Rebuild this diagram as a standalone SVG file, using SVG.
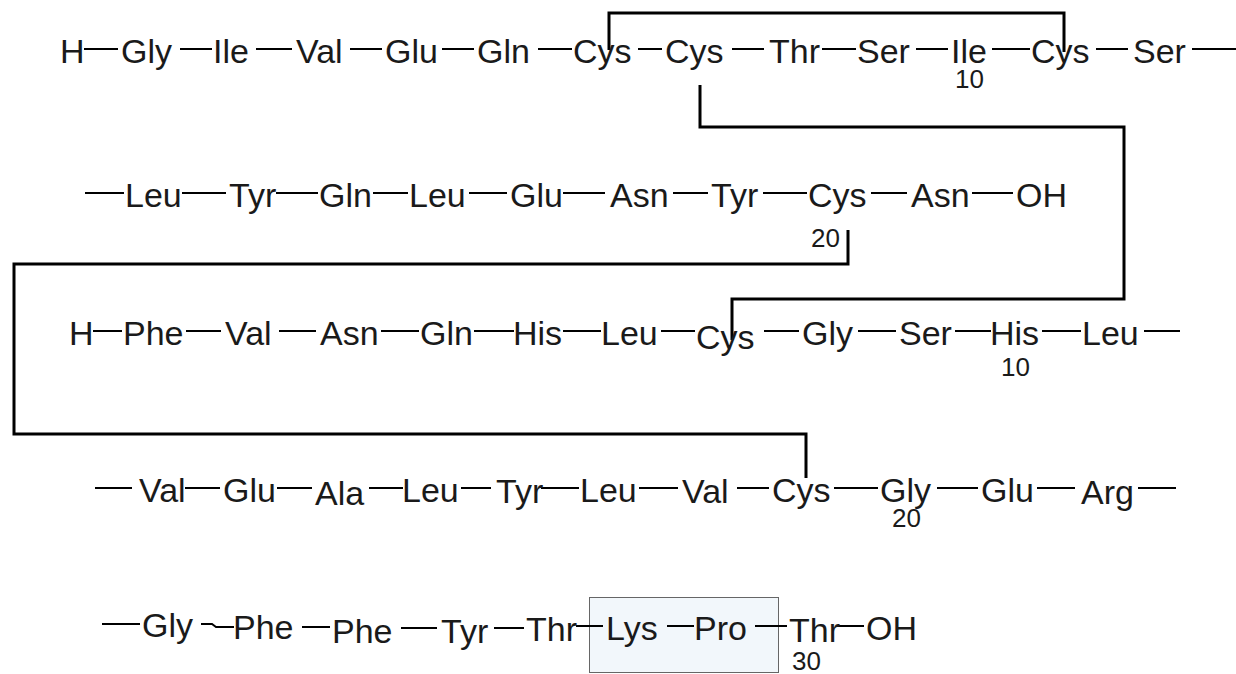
<svg xmlns="http://www.w3.org/2000/svg" width="1236" height="674" viewBox="0 0 1236 674">
<style>
text{font-family:"Liberation Sans",Arial,sans-serif;fill:#1a1a1a}
.t{font-size:34px}
.n{font-size:26px}
.b{stroke:#000;stroke-width:2;fill:none}
.ss{stroke:#000;stroke-width:3;fill:none}
</style>
<rect width="1236" height="674" fill="#fff"/>
<g id="box"><rect x="589.5" y="597.5" width="189" height="75" fill="#f2f7fb" stroke="#666" stroke-width="1"/></g>
<g id="connectors">
<g class="b">
<path d="M84 49H118M180 49H212M256 49H292M350 49H382M442 49H474M538 49H572M638 49H662M732 49H764M822 49H856M916 49H948M992 49H1030M1096 49H1128M1192 49H1236"/>
<path d="M85 193H124M182 193H226M276 193H318M373 193H408M469 193H507M563 193H605M673 193H708M763 193H807M871 193H907M972 193H1013"/>
<path d="M93 331H122M186 331H221M279 331H316M381 331H419M474 331H514M563 331H601M661 331H695M764 331H799M858 331H896M955 331H991M1042 331H1081M1144 331H1180"/>
<path d="M95 488H132M185 488H220M277 488H312M369 488H403M461 488H491M541 488H579M639 488H678M737 488H769M834 488H878M937 488H978M1037 488H1075M1138 488H1176"/>
<path d="M102 624H140M201 624H212L216 627H234M302 627H330M401 628H437M494 628H524M576 626H603M667 626H694M755 626H787M837 626H864"/>
</g>
<g class="ss">
<path d="M609 50V13H1064V52"/>
<path d="M700 85V127H1124V299H732V340"/>
<path d="M848 230V264H14V434H806V478"/>
</g>
</g>
<g id="row1">
<text class="t" x="60" y="63">H</text>
<text class="t" x="121" y="63">Gly</text>
<text class="t" x="213" y="63">Ile</text>
<text class="t" x="296" y="63">Val</text>
<text class="t" x="385" y="63">Glu</text>
<text class="t" x="477" y="63">Gln</text>
<text class="t" x="573" y="63">Cys</text>
<text class="t" x="665" y="63">Cys</text>
<text class="t" x="769" y="63">Thr</text>
<text class="t" x="857" y="63">Ser</text>
<text class="t" x="951" y="63">Ile</text>
<text class="n" x="955" y="88">10</text>
<text class="t" x="1031" y="63">Cys</text>
<text class="t" x="1133" y="63">Ser</text>
</g>
<g id="row2">
<text class="t" x="125" y="207">Leu</text>
<text class="t" x="229" y="207">Tyr</text>
<text class="t" x="319" y="207">Gln</text>
<text class="t" x="409" y="207">Leu</text>
<text class="t" x="510" y="207">Glu</text>
<text class="t" x="610" y="207">Asn</text>
<text class="t" x="711" y="207">Tyr</text>
<text class="t" x="808" y="207">Cys</text>
<text class="n" x="811" y="247">20</text>
<text class="t" x="911" y="207">Asn</text>
<text class="t" x="1016" y="207">OH</text>
</g>
<g id="row3">
<text class="t" x="69" y="345">H</text>
<text class="t" x="123" y="345">Phe</text>
<text class="t" x="225" y="345">Val</text>
<text class="t" x="320" y="345">Asn</text>
<text class="t" x="420" y="345">Gln</text>
<text class="t" x="513" y="345">His</text>
<text class="t" x="601" y="345">Leu</text>
<text class="t" x="696" y="349">Cys</text>
<text class="t" x="802" y="345">Gly</text>
<text class="t" x="899" y="345">Ser</text>
<text class="t" x="990" y="345">His</text>
<text class="n" x="1001" y="376">10</text>
<text class="t" x="1082" y="345">Leu</text>
</g>
<g id="row4">
<text class="t" x="139" y="502">Val</text>
<text class="t" x="223" y="502">Glu</text>
<text class="t" x="315" y="505">Ala</text>
<text class="t" x="402" y="502">Leu</text>
<text class="t" x="496" y="503">Tyr</text>
<text class="t" x="580" y="502">Leu</text>
<text class="t" x="682" y="503">Val</text>
<text class="t" x="772" y="502">Cys</text>
<text class="t" x="880" y="502">Gly</text>
<text class="n" x="892" y="527">20</text>
<text class="t" x="981" y="502">Glu</text>
<text class="t" x="1081" y="504">Arg</text>
</g>
<g id="row5">
<text class="t" x="142" y="637">Gly</text>
<text class="t" x="233" y="639">Phe</text>
<text class="t" x="332" y="643">Phe</text>
<text class="t" x="441" y="643">Tyr</text>
<text class="t" x="526" y="641">Thr</text>
<text class="t" x="606" y="640">Lys</text>
<text class="t" x="694" y="640">Pro</text>
<text class="t" x="789" y="642">Thr</text>
<text class="n" x="792" y="670">30</text>
<text class="t" x="866" y="640">OH</text>
</g>
</svg>
